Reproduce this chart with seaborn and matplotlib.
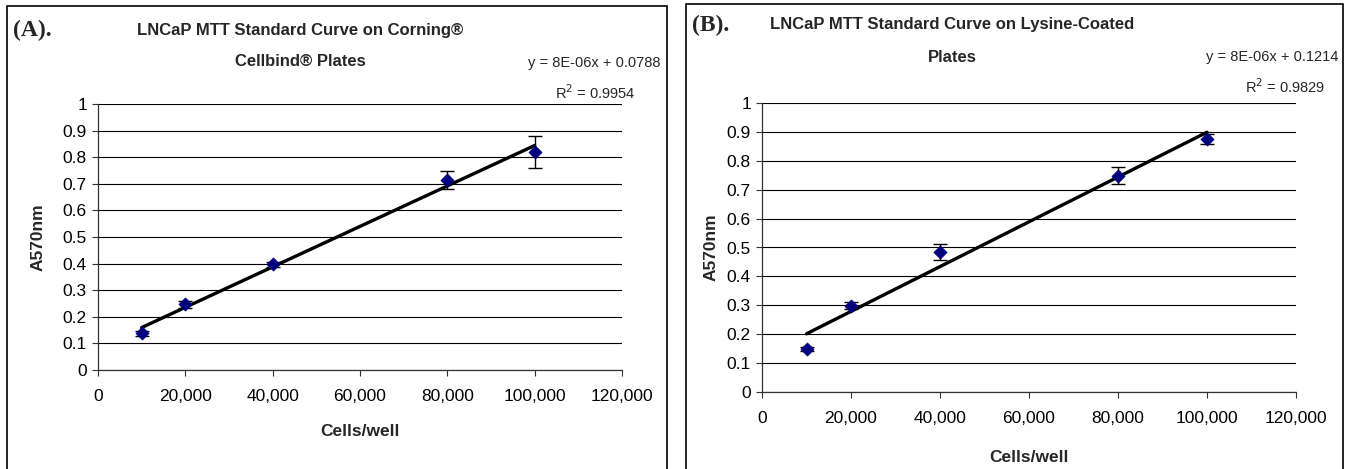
import numpy as np
import pandas as pd
import matplotlib
matplotlib.use("Agg")
import matplotlib.pyplot as plt
import matplotlib.patches as mpatches
import seaborn as sns
from matplotlib.ticker import FuncFormatter, MultipleLocator

sns.set_theme(style="white")
plt.rcParams['font.family'] = ['Liberation Sans', 'DejaVu Sans']

cells = [10000, 20000, 40000, 80000, 100000]
a_cellbind = [0.138, 0.247, 0.397, 0.716, 0.821]
err_cellbind = [0.010, 0.014, 0.010, 0.034, 0.060]
a_lysine = [0.149, 0.299, 0.484, 0.749, 0.876]
err_lysine = [0.007, 0.013, 0.028, 0.030, 0.018]

panel_labels = ["(A).", "(B)."]
title_line1 = ["LNCaP MTT Standard Curve on Corning®",
               "LNCaP MTT Standard Curve on Lysine-Coated"]
title_line2 = ["Cellbind® Plates", "Plates"]
equations = ["y = 8E-06x + 0.0788", "y = 8E-06x + 0.1214"]
r2_texts = ["R$^2$ = 0.9954", "R$^2$ = 0.9829"]
xlabel = "Cells/well"
ylabel = "A570nm"

W, H = 1346, 469
fig = plt.figure(figsize=(W / 100, H / 100), dpi=100)
fig.patch.set_facecolor("white")

def fx(px):
    return px / W

def fy(py):
    return 1 - py / H

# panel frames
for (x0, x1, top) in [(7, 667, 6), (686, 1343, 4)]:
    rect = mpatches.Rectangle((fx(x0), -0.05), fx(x1) - fx(x0), fy(top) + 0.05,
                              transform=fig.transFigure, fill=False,
                              edgecolor="black", linewidth=1.2)
    fig.patches.append(rect)

axes_px = [(98, 622, 104, 370), (762, 1296, 103, 392)]
datasets = [(a_cellbind, err_cellbind), (a_lysine, err_lysine)]
xlabel_pads = [14, 17]
ylabel_pads = [12, 6]

for i, ax_px in enumerate(axes_px):
    x0, x1, ytop, ybot = ax_px
    ax = fig.add_axes([fx(x0), fy(ybot), fx(x1) - fx(x0), fy(ytop) - fy(ybot)])
    vals, errs = datasets[i]
    df = pd.DataFrame({"cells": cells, "A570": vals, "err": errs})

    ax.errorbar(df["cells"], df["A570"], yerr=df["err"], fmt="none",
                ecolor="black", elinewidth=1.0, capsize=5, capthick=1.0, zorder=3)
    sns.regplot(data=df, x="cells", y="A570", ax=ax, ci=None, scatter=False,
                truncate=True, line_kws=dict(color="black", linewidth=2.4, zorder=4))
    sns.scatterplot(data=df, x="cells", y="A570", ax=ax, marker="D", s=45,
                    color="#00007f", edgecolor="#00007f", linewidth=0.5, zorder=5)

    ax.set_xlim(0, 120000)
    ax.set_ylim(0, 1)
    ax.xaxis.set_major_locator(MultipleLocator(20000))
    ax.yaxis.set_major_locator(MultipleLocator(0.1))
    ax.xaxis.set_major_formatter(FuncFormatter(lambda v, p: f"{int(round(v)):,}"))
    ax.yaxis.set_major_formatter(FuncFormatter(
        lambda v, p: "0" if abs(v) < 1e-9 else ("1" if abs(v - 1) < 1e-9 else f"{v:.1f}")))
    ax.grid(axis="y", color="black", linewidth=0.8)
    ax.grid(axis="x", visible=False)
    ax.set_axisbelow(True)
    for s in ["top", "right"]:
        ax.spines[s].set_visible(False)
    for s in ["left", "bottom"]:
        ax.spines[s].set_color("#333333")
        ax.spines[s].set_linewidth(0.9)
    ax.tick_params(axis="both", direction="out", length=4, width=0.8, color="#333333",
                   labelsize=12.5, labelcolor="black", left=True, bottom=True)
    ax.tick_params(axis="x", pad=10)
    ax.tick_params(axis="y", pad=4)
    ax.set_xlabel(xlabel, fontsize=12.5, fontweight="bold", labelpad=xlabel_pads[i])
    ax.set_ylabel(ylabel, fontsize=12.5, fontweight="bold", labelpad=ylabel_pads[i])

# texts
fig.text(fx(13), fy(30), panel_labels[0], family=["Liberation Serif"], fontweight="bold",
         fontsize=17, ha="left", va="center")
fig.text(fx(692), fy(25), panel_labels[1], family=["Liberation Serif"], fontweight="bold",
         fontsize=17, ha="left", va="center")

fig.text(fx(300), fy(30), title_line1[0], fontsize=12, fontweight="bold", ha="center", va="center")
fig.text(fx(300), fy(62), title_line2[0], fontsize=12, fontweight="bold", ha="center", va="center")
fig.text(fx(952), fy(25), title_line1[1], fontsize=12, fontweight="bold", ha="center", va="center")
fig.text(fx(952), fy(57), title_line2[1], fontsize=12, fontweight="bold", ha="center", va="center")

fig.text(fx(660), fy(63), equations[0], fontsize=10.5, ha="right", va="center")
fig.text(fx(636), fy(93), r2_texts[0], fontsize=10.5, ha="right", va="center")
fig.text(fx(1338), fy(57), equations[1], fontsize=10.5, ha="right", va="center")
fig.text(fx(1325), fy(87), r2_texts[1], fontsize=10.5, ha="right", va="center")

fig.savefig("out.png", dpi=100, facecolor="white")
